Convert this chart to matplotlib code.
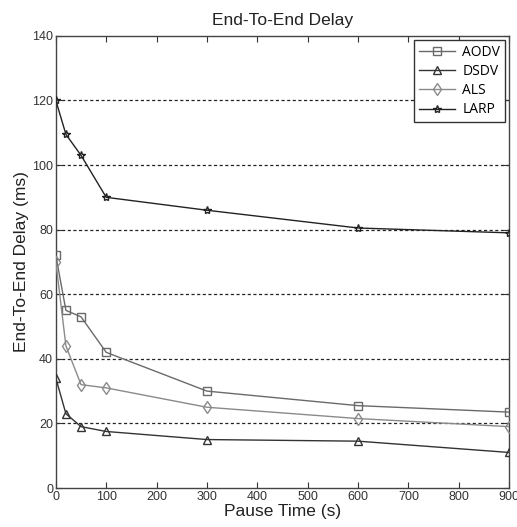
import matplotlib
matplotlib.use("Agg")
import matplotlib.pyplot as plt

pause = [0, 20, 50, 100, 300, 600, 900]
aodv = [72, 55, 53, 42, 30, 25.5, 23.5]
dsdv = [34, 23, 19, 17.5, 15, 14.5, 11]
als = [70, 44, 32, 31, 25, 21.5, 19]
larp = [120, 109.5, 103, 90, 86, 80.5, 79]
xticks = [0, 100, 200, 300, 400, 500, 600, 700, 800, 900]
yticks = [0, 20, 40, 60, 80, 100, 120, 140]

plt.rcParams['font.family'] = ['Liberation Sans', 'DejaVu Sans']
fig = plt.figure(figsize=(5.17, 5.27), dpi=100)
ax = fig.add_axes([0.108, 0.074, 0.877, 0.858])

for y in yticks[1:-1]:
    ax.axhline(y, color='#222222', linestyle=(0, (2.5, 2)), linewidth=0.9, zorder=1)

ax.plot(pause, aodv, color='#6a6a6a', marker='s', markersize=6, markerfacecolor='none',
        markeredgecolor='#6a6a6a', linewidth=1.0, label='AODV', zorder=3)
ax.plot(pause, dsdv, color='#333333', marker='^', markersize=6, markerfacecolor='none',
        markeredgecolor='#333333', linewidth=1.0, label='DSDV', zorder=3)
ax.plot(pause, als, color='#8a8a8a', marker='d', markersize=6, markerfacecolor='none',
        markeredgecolor='#8a8a8a', linewidth=1.0, label='ALS', zorder=3)
ax.plot(pause, larp, color='#222222', marker='*', markersize=6, markerfacecolor='none',
        markeredgecolor='#222222', linewidth=1.0, label='LARP', zorder=3)

ax.set_xlim(0, 900)
ax.set_ylim(0, 140)
ax.set_xticks(xticks)
ax.set_yticks(yticks)
ax.tick_params(direction='in', top=True, right=True, labelsize=9, colors='#333333',
               length=4, pad=2)
for s in ax.spines.values():
    s.set_color('#444444')
    s.set_linewidth(1.0)

ax.set_title('End-To-End Delay', fontsize=12.5, color='#222222', pad=8)
ax.set_xlabel('Pause Time (s)', fontsize=12.5, color='#222222', labelpad=1)
ax.set_ylabel('End-To-End Delay (ms)', fontsize=12.5, color='#222222', labelpad=2)

leg = ax.legend(loc='upper right', fancybox=False, edgecolor='#333333',
                framealpha=1, borderaxespad=0.3, handlelength=2.6, labelspacing=0.3,
                handletextpad=0.5, borderpad=0.35,
                prop={'family': 'Open Sans', 'size': 10})
leg.get_frame().set_linewidth(1.0)

fig.savefig('out.png', dpi=100)
